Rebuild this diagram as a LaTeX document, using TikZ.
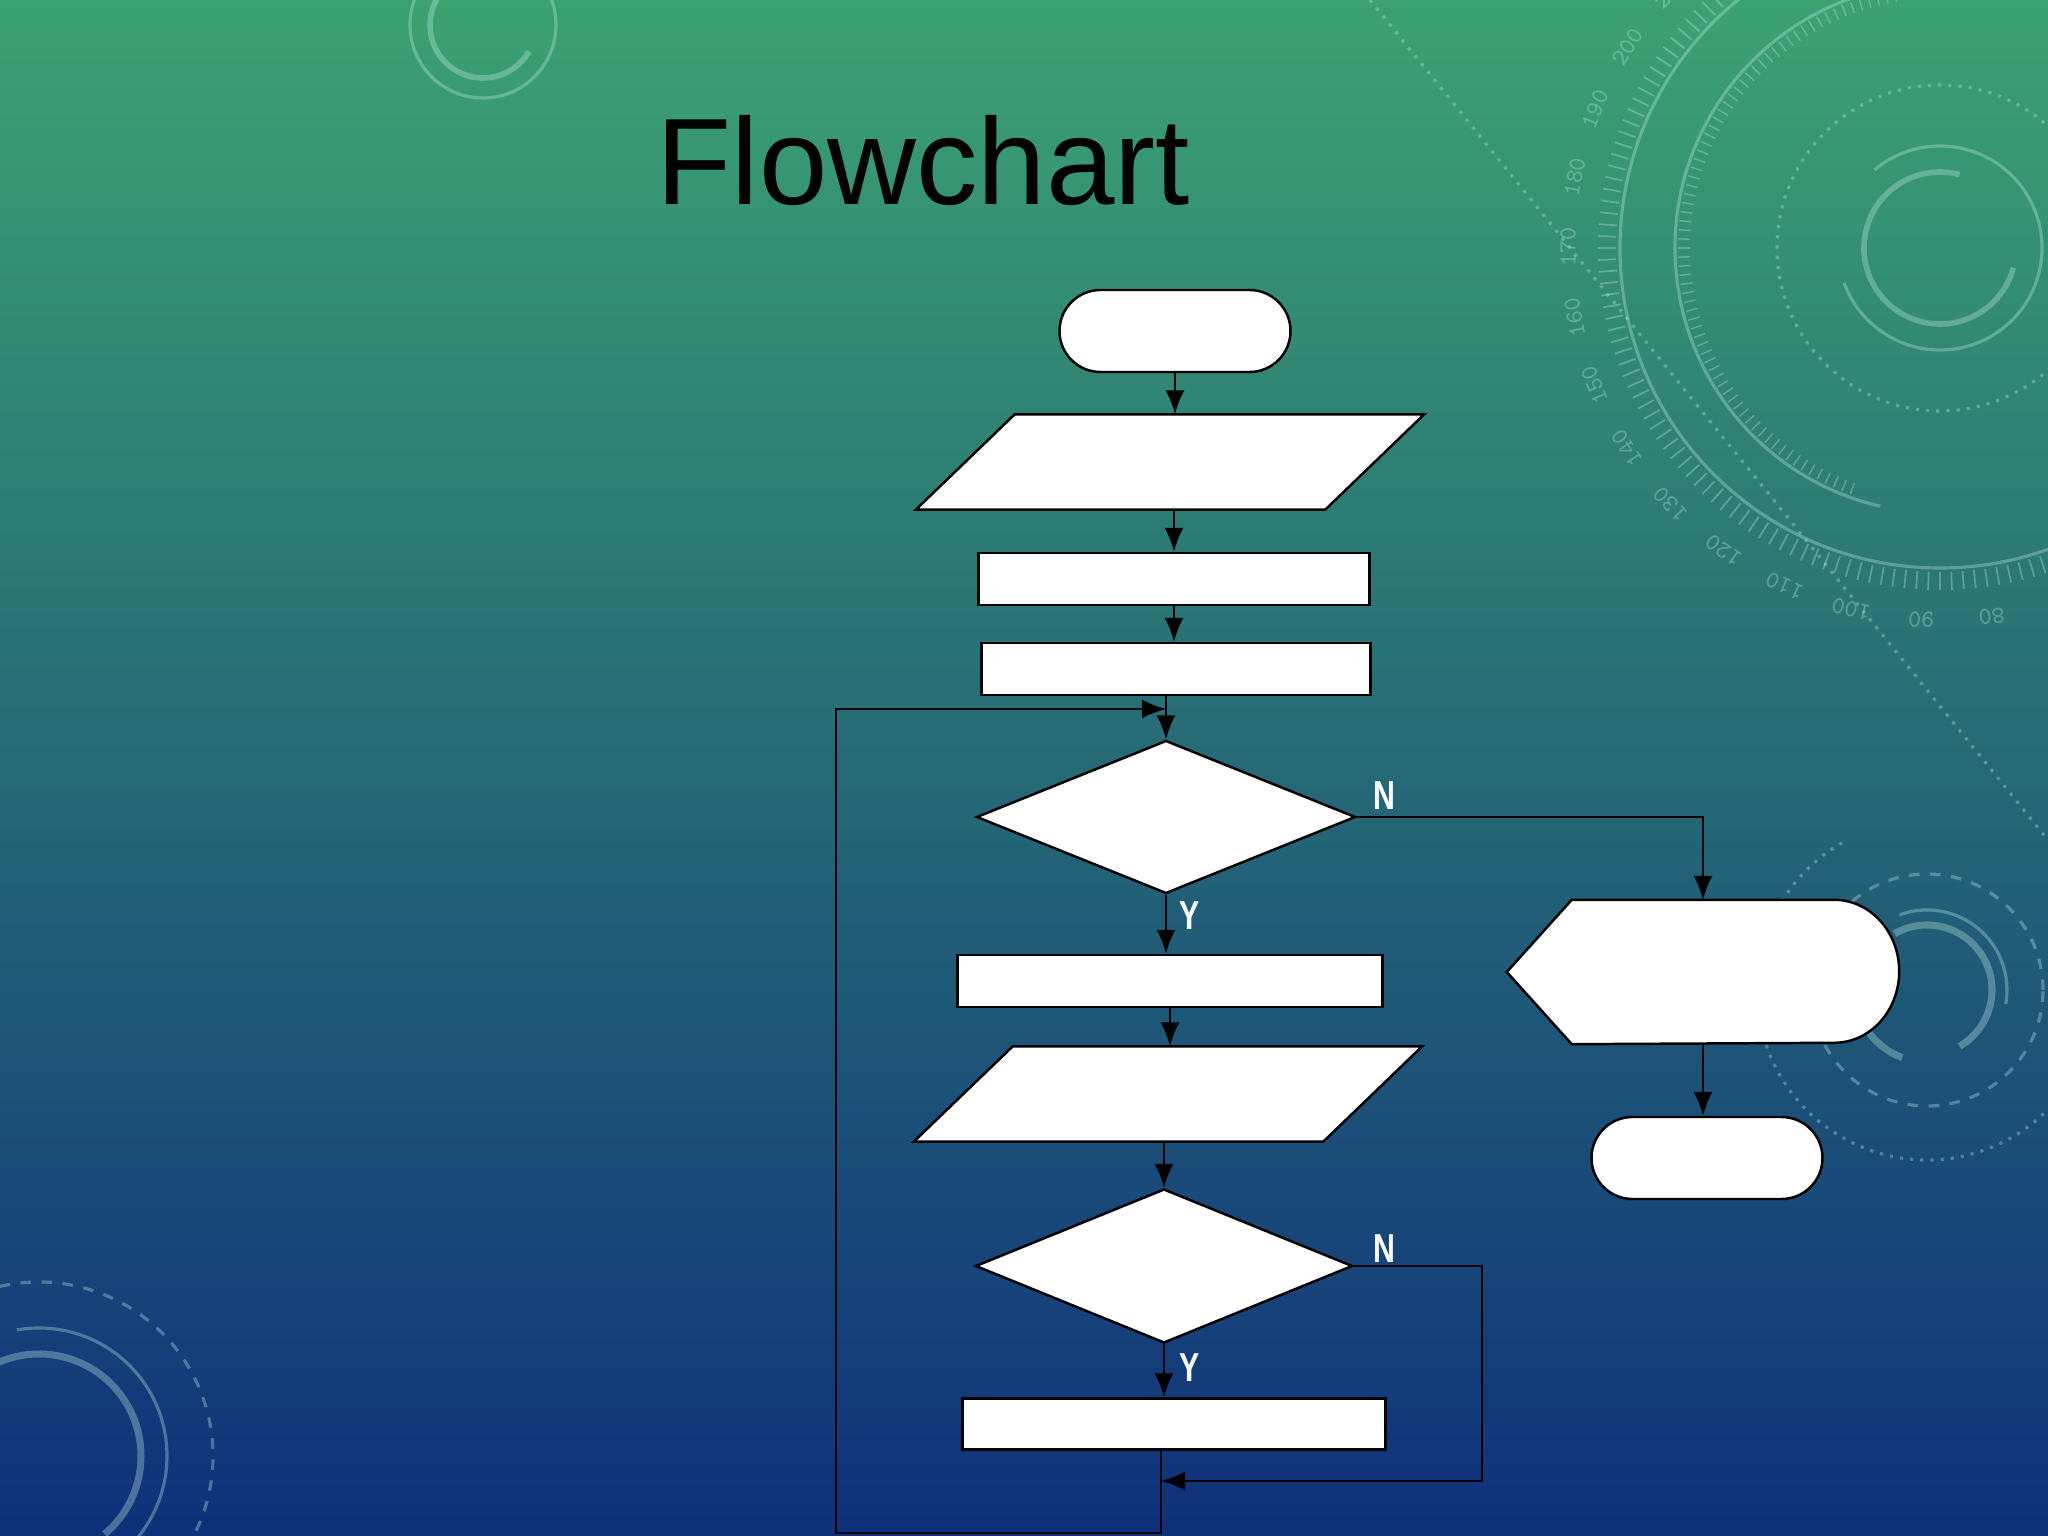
\documentclass[tikz,border=0pt]{standalone}
\usepackage{fontspec}
\setmainfont{Liberation Sans}
\usetikzlibrary{arrows.meta,shapes.geometric,shapes.misc}

\definecolor{bgtop}{RGB}{60,162,114}
\definecolor{bgmid}{RGB}{36,118,138}
\definecolor{bgbot}{RGB}{15,48,122}
\definecolor{ringcol}{RGB}{190,232,225}

\tikzset{
  shapebox/.style={draw=black, fill=white, line width=0.7pt},
  term/.style={shapebox, rounded rectangle, minimum width=2.31cm, minimum height=0.82cm, inner sep=0pt},
  proc/.style={shapebox, rectangle, minimum height=0.52cm, inner sep=0pt},
  iobox/.style={inner sep=0pt, minimum width=4.08cm, minimum height=0.94cm},
  decide/.style={shapebox, diamond, minimum width=3.79cm, minimum height=1.53cm, inner sep=0pt},
  flow/.style={line width=0.6pt, -{Latex[length=2.4mm,width=1.9mm]}},
  yn/.style={text=white, font=\bfseries\fontsize{11.5}{11.5}\selectfont, xscale=0.75, inner sep=0pt},
  bgring/.style={ringcol, opacity=0.35, line width=0.9pt},
}

\begin{document}
\begin{tikzpicture}
    \useasboundingbox (0,0) rectangle (20.48,-15.36);
    \shade[top color=bgtop, middle color=bgmid, bottom color=bgbot] (0,0) rectangle (20.48,-15.36);

    % background rings
    \begin{scope}[shift={(19.40,-2.48)}, bgring]
      \draw (0,0) circle (3.20);
      \draw (95:2.65) arc[start angle=95, end angle=257, radius=2.65];
      \draw[dotted] (0,0) circle (1.63);
      \draw[line width=1.6pt] (75:0.76) arc[start angle=75, end angle=345, radius=0.76];
      \draw (130:1.02) arc[start angle=130, end angle=-160, radius=1.02];
      \foreach \a in {96,98,...,310} \draw[line width=0.5pt] (\a:3.24) -- (\a:3.42);
      \foreach \a in {100,102,...,250} \draw[line width=0.4pt] (\a:2.50) -- (\a:2.62);
      \foreach \n in {80,90,...,210}
        \node[font=\ttfamily\fontsize{7}{7}\selectfont, text=ringcol, inner sep=0pt, rotate={278-(\n-80)*1.09-90}]
          (dial\n) at ({278-(\n-80)*1.09}:3.72) {\n};
    \end{scope}
    \draw[bgring, dotted] (13.7,0) -- (20.48,-8.4);

    \begin{scope}[shift={(0.39,-14.56)}, bgring]
      \draw[line width=2pt] (120:1.02) arc[start angle=120, end angle=-50, radius=1.02];
      \draw (100:1.28) arc[start angle=100, end angle=-40, radius=1.28];
      \draw[dashed] (110:1.74) arc[start angle=110, end angle=-70, radius=1.74];
    \end{scope}

    \begin{scope}[shift={(4.83,-0.25)}, bgring]
      \draw (0,0) circle (0.73);
      \draw[line width=1.6pt] (100:0.53) arc[start angle=100, end angle=330, radius=0.53];
    \end{scope}

    \begin{scope}[shift={(19.27,-9.90)}, bgring]
      \draw[line width=2pt] (120:0.65) arc[start angle=120, end angle=-60, radius=0.65];
      \draw[line width=2pt] (250:0.72) arc[start angle=250, end angle=210, radius=0.72];
      \draw (110:0.80) arc[start angle=110, end angle=-10, radius=0.80];
      \draw[dashed] (0,0) circle (1.16);
      \draw[dotted] (120:1.70) arc[start angle=120, end angle=380, radius=1.70];
    \end{scope}

    \node[anchor=base west, font=\fontsize{35}{35}\selectfont, inner sep=0pt] (title) at (6.56,-2.05) {Flowchart};

    % main column
    \node[term] (start) at (11.75,-3.31) {};
    \node[iobox] (in1) at (11.70,-4.62) {};
    \node[proc, minimum width=3.91cm] (rect1) at (11.74,-5.79) {};
    \node[proc, minimum width=3.89cm] (rect2) at (11.76,-6.69) {};
    \node[decide] (dec1) at (11.66,-8.17) {};
    \node[proc, minimum width=4.25cm] (rect3) at (11.70,-9.81) {};
    \node[iobox] (in2) at (11.68,-10.94) {};
    \node[decide, minimum width=3.77cm, minimum height=1.54cm] (dec2) at (11.64,-12.66) {};
    \node[proc, minimum width=4.23cm, minimum height=0.51cm] (rect4) at (11.74,-14.24) {};

    \foreach \p in {in1,in2}
      \draw[shapebox] ([xshift=-0.495cm]\p.south west) -- ([xshift=-0.495cm]\p.south east)
        -- ([xshift=0.495cm]\p.north east) -- ([xshift=0.495cm]\p.north west) -- cycle;

    % display and end
    \node[inner sep=0pt, minimum width=3.91cm, minimum height=1.43cm] (show) at (17.03,-9.72) {};
    \draw[shapebox] (show.west) -- ([xshift=0.65cm]show.north west) -- ([xshift=-0.65cm]show.north east)
      arc[start angle=90, end angle=-90, x radius=0.65cm, y radius=0.715cm]
      -- ([xshift=0.65cm]show.south west) -- cycle;
    \node[term] (stop) at (17.07,-11.58) {};

    \coordinate (join) at (11.61,-14.81);
    \coordinate (nback) at (14.82,-14.81);
    \coordinate (loopbot) at (8.36,-15.33);
    \coordinate (loopin) at (11.66,-7.09);

    \draw[flow] (start.south) -- (start.south |- in1.north);
    \draw[flow] (rect1.north |- in1.south) -- (rect1.north);
    \draw[flow] (rect1.south) -- (rect1.south |- rect2.north);
    \draw[flow] (dec1.north |- rect2.south) -- (dec1.north);
    \draw[flow] (dec1.south) -- (dec1.south |- rect3.north);
    \draw[flow] (rect3.south) -- (rect3.south |- in2.north);
    \draw[flow] (dec2.north |- in2.south) -- (dec2.north);
    \draw[flow] (dec2.south) -- (dec2.south |- rect4.north);

    \draw[flow] (dec1.east) -| (show.north);
    \draw[flow] (show.south) -- (show.south |- stop.north);
    \draw[flow] (dec2.east) -| (nback) -- (join);
    \draw[flow] (join |- rect4.south) -- (join |- loopbot) -- (loopbot) |- (loopin);

    \node[yn] (n1) at (13.845,-7.955) {N};
    \node[yn] (y1) at (11.90,-9.155) {Y};
    \node[yn] (n2) at (13.845,-12.486) {N};
    \node[yn] (y2) at (11.90,-13.675) {Y};
\end{tikzpicture}
\end{document}
